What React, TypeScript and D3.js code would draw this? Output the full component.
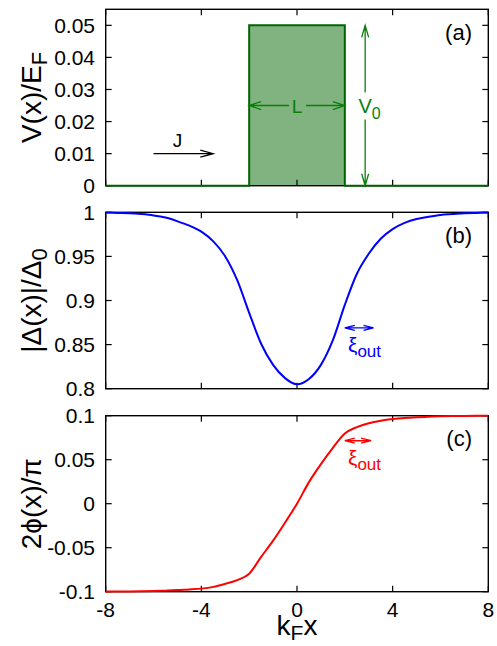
import React from 'react';
import * as d3 from 'd3';

const X_TICKS = [-8, -4, 0, 4, 8];
const X_TICK_LABELS = ['-8', '-4', '0', '4', '8'];

const POT_X = [-8, -2, -2, 2, 2, 8];
const POT_V = [0, 0, 0.05, 0.05, 0, 0];
const POT_TICKS = [0, 0.01, 0.02, 0.03, 0.04, 0.05];
const POT_TICK_LABELS = ['0', '0.01', '0.02', '0.03', '0.04', '0.05'];

const GAP_X = [-8, -7.5, -7, -6.5, -6, -5.5, -5, -4.5, -4, -3.5, -3, -2.5, -2, -1.5, -1, -0.5, 0, 0.5, 1, 1.5, 2, 2.5, 3, 3.5, 4, 4.5, 5, 5.5, 6, 6.5, 7, 7.5, 8];
const GAP_V = [0.9995, 0.9993, 0.999, 0.998, 0.9965, 0.994, 0.9898, 0.9848, 0.978, 0.967, 0.95, 0.923, 0.886, 0.851, 0.827, 0.812, 0.805, 0.811, 0.827, 0.855, 0.895, 0.93, 0.953, 0.97, 0.981, 0.988, 0.9925, 0.995, 0.997, 0.998, 0.999, 0.9993, 0.9995];
const GAP_TICKS = [0.8, 0.85, 0.9, 0.95, 1];
const GAP_TICK_LABELS = ['0.8', '0.85', '0.9', '0.95', '1'];

const PHASE_X = GAP_X;
const PHASE_V = [-0.0999, -0.0999, -0.0998, -0.0996, -0.0993, -0.0988, -0.0982, -0.0975, -0.0965, -0.0945, -0.091, -0.0868, -0.0795, -0.0605, -0.042, -0.0215, 0, 0.0245, 0.045, 0.0635, 0.0797, 0.087, 0.0915, 0.0943, 0.0962, 0.0974, 0.0982, 0.0988, 0.0993, 0.0996, 0.0998, 0.0999, 0.0999];
const PHASE_TICKS = [-0.1, -0.05, 0, 0.05, 0.1];
const PHASE_TICK_LABELS = ['-0.1', '-0.05', '0', '0.05', '0.1'];

const FONT = '"Liberation Sans", Arial, Helvetica, sans-serif';
const LEFT = 105.7;
const RIGHT = 488.3;

const x = d3.scaleLinear().domain([-8, 8]).range([LEFT, RIGHT]);
const yA = d3.scaleLinear().domain([0, 0.055]).range([185.7, 9.3]);
const yB = d3.scaleLinear().domain([0.8, 1]).range([388.7, 212.3]);
const yC = d3.scaleLinear().domain([-0.1, 0.1]).range([591.7, 415.7]);

type Scale = d3.ScaleLinear<number, number>;

function head(x1: number, y1: number, x2: number, y2: number, len: number, hw: number) {
  const dx = x2 - x1, dy = y2 - y1;
  const d = Math.hypot(dx, dy) || 1;
  const ux = dx / d, uy = dy / d;
  const bx = x2 - ux * len, by = y2 - uy * len;
  const px = -uy * hw, py = ux * hw;
  return `M${bx + px},${by + py}L${x2},${y2}L${bx - px},${by - py}`;
}

function Arrow(props: { x1: number; y1: number; x2: number; y2: number; color: string; len?: number; hw?: number; sw?: number; startHead?: boolean; endHead?: boolean }) {
  const { x1, y1, x2, y2, color, len = 12, hw = 4, sw = 1.3, startHead = false, endHead = true } = props;
  let d = `M${x1},${y1}L${x2},${y2}`;
  if (endHead) d += head(x1, y1, x2, y2, len, hw);
  if (startHead) d += head(x2, y2, x1, y1, len, hw);
  return <path d={d} fill="none" stroke={color} strokeWidth={sw} />;
}

function Frame({ y, ticks, labels }: { y: Scale; ticks: number[]; labels: string[] }) {
  const [b, t] = y.range();
  const tl = 6;
  return (
    <g>
      {X_TICKS.map((v, i) => (
        <g key={'x' + i}>
          <line x1={x(v)} x2={x(v)} y1={b} y2={b - tl} stroke="#000" strokeWidth={1.2} />
          <line x1={x(v)} x2={x(v)} y1={t} y2={t + tl} stroke="#000" strokeWidth={1.2} />
        </g>
      ))}
      {ticks.map((v, i) => (
        <g key={'y' + i}>
          <line x1={LEFT} x2={LEFT + tl} y1={y(v)} y2={y(v)} stroke="#000" strokeWidth={1.2} />
          <line x1={RIGHT} x2={RIGHT - tl} y1={y(v)} y2={y(v)} stroke="#000" strokeWidth={1.2} />
          <text x={95} y={y(v) + 7.5} textAnchor="end" fontSize={21} fontFamily={FONT} fill="#000">{labels[i]}</text>
        </g>
      ))}
      <rect x={LEFT} y={t} width={RIGHT - LEFT} height={b - t} fill="none" stroke="#000" strokeWidth={1.4} />
    </g>
  );
}

export default function App() {
  const potPts = POT_X.map((v, i) => [v, POT_V[i]] as [number, number]);
  const potArea = d3.area<[number, number]>().x(d => x(d[0])).y0(yA(0)).y1(d => yA(d[1]))(potPts) || '';
  const potLine = d3.line<[number, number]>().x(d => x(d[0])).y(d => yA(d[1]))(potPts) || '';
  const gapLine = d3.line<number>().x((_, i) => x(GAP_X[i])).y(d => yB(d)).curve(d3.curveMonotoneX)(GAP_V) || '';
  const phaseLine = d3.line<number>().x((_, i) => x(PHASE_X[i])).y(d => yC(d)).curve(d3.curveMonotoneX)(PHASE_V) || '';

  const green = '#0a800a';
  const darkGreen = '#006400';
  const lY = yA(0.025);
  const v0x = x(2.85);

  return (
    <svg width={497} height={646} style={{ position: 'absolute', left: 0, top: 0, background: '#fff' }} fontFamily={FONT}>
      <rect x={0} y={0} width={497} height={646} fill="#fff" />
      {/* Panel (a) */}
      <path d={potArea} fill="#80b380" stroke="none" />
      <Frame y={yA} ticks={POT_TICKS} labels={POT_TICK_LABELS} />
      <path d={potLine} fill="none" stroke={darkGreen} strokeWidth={2} />
      <Arrow x1={x(-6)} y1={yA(0.01)} x2={x(-3.5)} y2={yA(0.01)} color="#000" len={13} hw={3.5} sw={1.2} />
      <text x={x(-5)} y={yA(0.0122)} textAnchor="middle" fontSize={19} fill="#000">J</text>
      <Arrow x1={x(0) - 8} y1={lY} x2={x(-2)} y2={lY} color={green} len={12} hw={4} sw={1.3} />
      <Arrow x1={x(0) + 9} y1={lY} x2={x(2)} y2={lY} color={green} len={12} hw={4} sw={1.3} />
      <text x={x(0)} y={lY + 7} textAnchor="middle" fontSize={19} fill={green}>L</text>
      <Arrow x1={v0x} y1={lY - 13} x2={v0x} y2={yA(0.05)} color={green} len={12} hw={3.5} sw={1.3} />
      <Arrow x1={v0x} y1={lY + 14} x2={v0x} y2={yA(0)} color={green} len={12} hw={3.5} sw={1.3} />
      <text x={v0x - 6.7} y={lY + 7.5} fontSize={20} fill={green}>V<tspan fontSize={16} dy={6}>0</tspan></text>
      <text x={472} y={40} textAnchor="end" fontSize={22} fill="#000">(a)</text>

      {/* Panel (b) */}
      <Frame y={yB} ticks={GAP_TICKS} labels={GAP_TICK_LABELS} />
      <path d={gapLine} fill="none" stroke="#0000ff" strokeWidth={2} />
      <Arrow x1={x(2)} y1={yB(0.869)} x2={x(3.2)} y2={yB(0.869)} color="#0000ff" len={10} hw={2.5} sw={1.4} startHead />
      <text x={348} y={352} fontSize={21} fill="#0000ff">ξ<tspan fontSize={17} dy={5}>out</tspan></text>
      <text x={472} y={243} textAnchor="end" fontSize={22} fill="#000">(b)</text>

      {/* Panel (c) */}
      <Frame y={yC} ticks={PHASE_TICKS} labels={PHASE_TICK_LABELS} />
      <path d={phaseLine} fill="none" stroke="#ff0000" strokeWidth={2} />
      <Arrow x1={x(2)} y1={yC(0.0716)} x2={x(3.1)} y2={yC(0.0716)} color="#ff0000" len={10} hw={2.5} sw={1.4} startHead />
      <text x={348} y={465} fontSize={21} fill="#ff0000">ξ<tspan fontSize={17} dy={5}>out</tspan></text>
      <text x={472} y={446} textAnchor="end" fontSize={22} fill="#000">(c)</text>

      {/* x tick labels */}
      {X_TICKS.map((v, i) => (
        <text key={i} x={x(v)} y={617} textAnchor="middle" fontSize={21} fill="#000">{X_TICK_LABELS[i]}</text>
      ))}
      <text x={x(0)} y={635} textAnchor="middle" fontSize={28} fill="#000">k<tspan fontSize={21} dy={5}>F</tspan><tspan dy={-5}>x</tspan></text>

      {/* y axis labels */}
      <text transform={`translate(41,${(yA.range()[0] + yA.range()[1]) / 2}) rotate(-90)`} textAnchor="middle" fontSize={28} fill="#000">V(x)/E<tspan fontSize={22} dy={6}>F</tspan></text>
      <text transform={`translate(41,${(yB.range()[0] + yB.range()[1]) / 2}) rotate(-90)`} textAnchor="middle" fontSize={28} fill="#000">|Δ(x)|/Δ<tspan fontSize={22} dy={6}>0</tspan></text>
      <text transform={`translate(41,${(yC.range()[0] + yC.range()[1]) / 2}) rotate(-90)`} textAnchor="middle" fontSize={28} fill="#000">2ϕ(x)/π</text>
    </svg>
  );
}
